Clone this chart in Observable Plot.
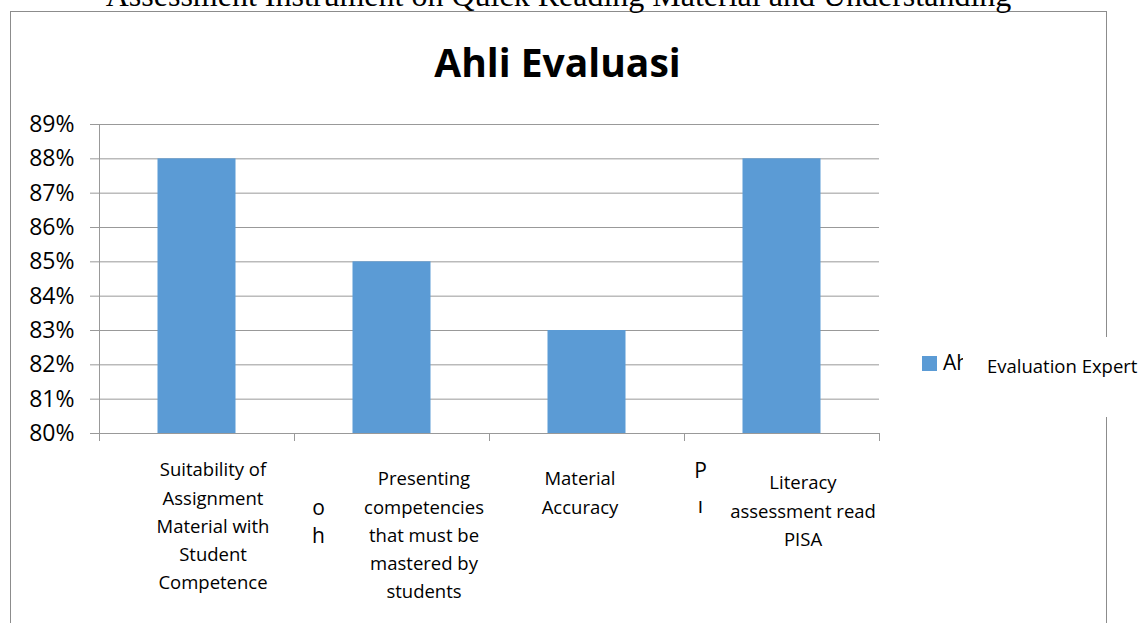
<!DOCTYPE html>
<html>
<head>
<meta charset="utf-8">
<script src="https://cdn.jsdelivr.net/npm/d3@7"></script>
<script src="https://cdn.jsdelivr.net/npm/@observablehq/plot@0.6"></script>
<style>
  body { margin: 0; background: #fff; overflow: hidden; }
  #wrap { position: relative; width: 1141px; height: 623px; overflow: hidden; font-family: 'Open Sans', sans-serif; color: #000; }
  #frame { position: absolute; left: 10px; top: 11px; width: 1095px; height: 700px; border: 1px solid #8c8c8c; border-bottom: none; }
  #doc-title { position: absolute; left: 0; top: -21px; width: 1117px; text-align: center; font-family: 'Liberation Serif', 'Times New Roman', serif; font-size: 32px; line-height: 32px; white-space: nowrap; }
  #title { position: absolute; left: 0; top: 42px; width: 1115px; text-align: center; font-weight: 700; font-size: 39px; line-height: 39px; white-space: nowrap; }
  #chart { position: absolute; left: 0; top: 0; }
  #swatch { position: absolute; left: 922px; top: 356px; width: 15px; height: 15px; background: #5b9bd5; }
  #leg { position: absolute; left: 943px; top: 352px; font-size: 21px; line-height: 21px; white-space: nowrap; }
  #box { position: absolute; left: 963px; top: 337px; width: 178px; height: 80px; background: #fff; }
  #box span { position: absolute; left: 24px; top: 20px; font-size: 18.5px; line-height: 18.5px; white-space: nowrap; }
</style>
</head>
<body>
<div id="wrap">
  <div id="frame"></div>
  <div id="doc-title"></div>
  <div id="title"></div>
  <div id="chart"></div>
  <div id="swatch"></div>
  <div id="leg"></div>
  <div id="box"><span></span></div>
</div>
<script>
// ---- data ----
const docTitle = "Assessment Instrument on Quick Reading Material and Understanding";
const chartTitle = "Ahli Evaluasi";
const seriesName = "Ahli";
const overlayText = "Evaluation Expert";
const categories = [
  "Suitability of\nAssignment\nMaterial with\nStudent\nCompetence",
  "Presenting\ncompetencies\nthat must be\nmastered by\nstudents",
  "Material\nAccuracy",
  "Literacy\nassessment read\nPISA"
];
const values = [0.88, 0.85, 0.83, 0.88];
const yTicks = [0.80, 0.81, 0.82, 0.83, 0.84, 0.85, 0.86, 0.87, 0.88, 0.89];
// clipped label fragments visible between the category labels
const fragmentsA = ["o\nh"];
const fragmentsB = ["P\n\u0131"];

// ---- styling (label nudges as drawn in the original) ----
const barColor = "#5b9bd5";
const gridColor = "#999999";
const barFrac = 0.4;
const labelDx = [16, 32, -7, 21];
const labelDy = [23, 32, 32, 36];

document.getElementById("doc-title").textContent = docTitle;
document.getElementById("title").textContent = chartTitle;
document.getElementById("leg").textContent = seriesName;
document.querySelector("#box span").textContent = overlayText;

const data = categories.map((c, i) => ({ i, label: c, value: values[i] }));
const n = categories.length;
const yMin = yTicks[0], yMax = yTicks[yTicks.length - 1];

const labelMarks = data.map((d, i) => Plot.text([d], {
  x: e => e.i + 0.5,
  text: "label",
  frameAnchor: "bottom",
  lineAnchor: "top",
  dx: labelDx[i],
  dy: labelDy[i],
  fontSize: 18.5,
  lineHeight: 1.52,
  fill: "#000"
}));

const chart = Plot.plot({
  width: 1141,
  height: 623,
  marginLeft: 99,
  marginRight: 262,
  marginTop: 124,
  marginBottom: 190,
  style: { fontFamily: "'Open Sans', sans-serif", background: "transparent", color: "#000" },
  x: { domain: [0, n] },
  y: { domain: [yMin, yMax] },
  marks: [
    Plot.gridY(yTicks, { stroke: gridColor, strokeOpacity: 1 }),
    Plot.rectY(data, {
      x1: d => d.i + (1 - barFrac) / 2,
      x2: d => d.i + (1 + barFrac) / 2,
      y1: yMin,
      y2: "value",
      fill: barColor
    }),
    Plot.ruleX([0], { stroke: gridColor }),
    Plot.axisY({
      ticks: yTicks,
      tickFormat: d3.format(".0%"),
      tickSize: 9,
      tickPadding: 16,
      fontSize: 23,
      stroke: gridColor,
      fill: "#000",
      label: null
    }),
    Plot.axisX({
      ticks: d3.range(n + 1),
      tickSize: 8,
      tickFormat: () => "",
      stroke: gridColor,
      label: null
    }),
    ...labelMarks,
    Plot.text(fragmentsA, {
      x: () => 1,
      text: d => d,
      frameAnchor: "bottom",
      lineAnchor: "top",
      dx: 24,
      dy: 61,
      fontSize: 21,
      lineHeight: 1.35,
      fill: "#000"
    }),
    Plot.text(fragmentsB, {
      x: () => 3,
      text: d => d,
      frameAnchor: "bottom",
      lineAnchor: "top",
      dx: 16,
      dy: 20,
      fontSize: 21,
      lineHeight: 1.67,
      fill: "#000"
    })
  ]
});
document.getElementById("chart").appendChild(chart);
</script>
</body>
</html>
